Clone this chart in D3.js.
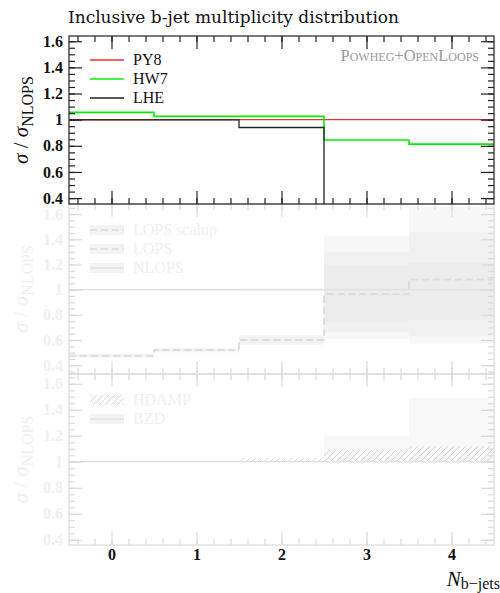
<!doctype html>
<html>
<head>
<meta charset="utf-8">
<style>
  body { margin: 0; background: #fff; }
  svg { display: block; font-family: "Liberation Serif", "DejaVu Serif", serif; }
  .tick text { font-weight: bold; }
</style>
</head>
<body>
<svg id="chart" width="500" height="593"></svg>
<script src="https://cdnjs.cloudflare.com/ajax/libs/d3/7.8.5/d3.min.js"></script>
<script>
// bins of the b-jet multiplicity
var bins = [0, 1, 2, 3, 4];
var xTickLabels = ['0', '1', '2', '3', '4'];
var yTicks = [0.4, 0.6, 0.8, 1, 1.2, 1.4, 1.6];

// panel 1: shower comparison
var py8 = [1, 1, 1, 1, 1];
var hw7 = [1.056, 1.025, 1.025, 0.844, 0.813];
var lhe = [0.998, 0.998, 0.94, 0, 0];

// panel 2: LO vs NLO
var lopsScalup = [0.475, 0.52, 0.6, 0.963, 1.08];
var lops = [0.475, 0.52, 0.6, 0.963, 1.08];
var nlops = [1, 1, 1, 1, 1];
var lopsScalupLo = [0.46, 0.5, 0.56, 0.61, 0.57];
var lopsScalupHi = [0.49, 0.54, 0.64, 1.43, 1.66];
var lopsLo = [0.46, 0.51, 0.57, 0.66, 0.63];
var lopsHi = [0.49, 0.53, 0.63, 1.3, 1.46];
var nlopsLo = [0.995, 0.99, 0.985, 0.74, 0.76];
var nlopsHi = [1.005, 1.01, 1.015, 1.2, 1.22];

// panel 3: hdamp and bzd variations
var hdamp = [1, 1, 1.025, 1.09, 1.12];
var bzd = [1, 1, 1, 1, 1];
var bzdHi = [1, 1, 1, 1.2, 1.49];

var svg = d3.select('#chart');
var x = d3.scaleLinear().domain([-0.5, 4.5]).range([69, 494]);

var panels = [
    { top: 36, bottom: 204, lo: 0.355, hi: 1.64, faded: false },
    { top: 204, bottom: 374, lo: 0.33, hi: 1.68, faded: true },
    { top: 374, bottom: 545, lo: 0.36, hi: 1.675, faded: true }
];
panels.forEach(function(p, i) {
    p.y = d3.scaleLinear().domain([p.lo, p.hi]).range([p.bottom, p.top]);
    p.g = svg.append('g');
    var cp = svg.append('clipPath').attr('id', 'clip' + i);
    cp.append('rect').attr('x', x.range()[0]).attr('y', p.top)
        .attr('width', x.range()[1] - x.range()[0]).attr('height', p.bottom - p.top);
    p.plot = p.g.append('g').attr('clip-path', 'url(#clip' + i + ')');
});

// hatch pattern for HDAMP
var defs = svg.append('defs');
defs.append('pattern').attr('id', 'hatch').attr('patternUnits', 'userSpaceOnUse')
    .attr('width', 6).attr('height', 6)
    .append('path').attr('d', 'M-1,7 L7,-1 M-1,1 L1,-1 M5,7 L7,5')
    .attr('stroke', '#d4d4d4').attr('stroke-width', 1);

function stepPoints(vals) {
    var pts = bins.map(function(b, i) { return [b - 0.5, vals[i]]; });
    pts.push([bins[bins.length - 1] + 0.5, vals[vals.length - 1]]);
    return pts;
}
function stepLine(p) {
    return d3.line().curve(d3.curveStepAfter)
        .x(function(d) { return x(d[0]); })
        .y(function(d) { return p.y(d[1]); });
}
function drawLine(p, vals, color, dash, width) {
    p.plot.append('path')
        .attr('d', stepLine(p)(stepPoints(vals)))
        .attr('fill', 'none')
        .attr('stroke', color)
        .attr('stroke-width', width || 1.3)
        .attr('stroke-dasharray', dash || null);
}
function drawBand(p, lo, hi, fill) {
    p.plot.selectAll(null).data(bins).enter().append('rect')
        .attr('x', function(b) { return x(b - 0.5); })
        .attr('width', function(b) { return x(b + 0.5) - x(b - 0.5); })
        .attr('y', function(b, i) { return p.y(hi[i]); })
        .attr('height', function(b, i) { return p.y(lo[i]) - p.y(hi[i]); })
        .attr('fill', fill);
}

// ---- panel 2 content
var p2 = panels[1];
drawBand(p2, lopsScalupLo, lopsScalupHi, 'rgba(0,0,0,0.03)');
drawBand(p2, lopsLo, lopsHi, 'rgba(0,0,0,0.025)');
drawBand(p2, nlopsLo, nlopsHi, 'rgba(0,0,0,0.02)');
drawLine(p2, nlops, '#e2e2e2', null, 1.5);
drawLine(p2, lopsScalup, '#dcdcdc', '7,4', 1.5);
drawLine(p2, lops, '#dcdcdc', '7,4', 1.5);

// ---- panel 3 content
var p3 = panels[2];
drawBand(p3, bzd, bzdHi, '#f8f8f8');
drawBand(p3, bzd, hdamp, 'url(#hatch)');
drawLine(p3, bzd, '#e2e2e2', null, 1.5);

// ---- panel 1 content
var p1 = panels[0];
drawLine(p1, py8, '#f03030');
drawLine(p1, hw7, '#00f000', null, 1.6);
drawLine(p1, lhe, '#222');

// ---- axes and frames
panels.forEach(function(p, i) {
    var col = p.faded ? '#dadada' : '#222';
    var txt = p.faded ? '#f0f0f0' : '#111';
    var x0 = x.range()[0], x1 = x.range()[1];
    var minorY = d3.range(Math.ceil(p.lo * 20), Math.floor(p.hi * 20) + 1).map(function(v) { return v / 20; });
    var minorX = d3.range(-2, 23).map(function(v) { return v / 5; });

    var left = p.g.append('g').attr('transform', 'translate(' + x0 + ',0)')
        .call(d3.axisLeft(p.y).tickValues(yTicks).tickSize(-13).tickPadding(6)
            .tickFormat(function(d) { return d3.format('')(d); }));
    p.g.append('g').attr('transform', 'translate(' + x0 + ',0)')
        .call(d3.axisLeft(p.y).tickValues(minorY).tickSize(-6).tickFormat(''));
    p.g.append('g').attr('transform', 'translate(' + x1 + ',0)')
        .call(d3.axisRight(p.y).tickValues(yTicks).tickSize(-13).tickFormat(''));
    p.g.append('g').attr('transform', 'translate(' + x1 + ',0)')
        .call(d3.axisRight(p.y).tickValues(minorY).tickSize(-6).tickFormat(''));

    var bottom = p.g.append('g').attr('transform', 'translate(0,' + p.bottom + ')')
        .call(d3.axisBottom(x).tickValues(bins).tickSize(-13).tickPadding(12)
            .tickFormat(function(d, k) { return i === 2 ? xTickLabels[k] : ''; }));
    p.g.append('g').attr('transform', 'translate(0,' + p.bottom + ')')
        .call(d3.axisBottom(x).tickValues(minorX).tickSize(-6).tickFormat(''));
    p.g.append('g').attr('transform', 'translate(0,' + p.top + ')')
        .call(d3.axisTop(x).tickValues(bins).tickSize(-13).tickFormat(''));
    p.g.append('g').attr('transform', 'translate(0,' + p.top + ')')
        .call(d3.axisTop(x).tickValues(minorX).tickSize(-6).tickFormat(''));

    p.g.selectAll('.domain').remove();
    p.g.selectAll('.tick line').attr('stroke', col).attr('stroke-width', 1.2);
    left.selectAll('.tick text').attr('fill', txt)
        .style('font-size', '16px').style('font-family', '"Liberation Serif", serif');
    bottom.selectAll('.tick text').attr('fill', '#111').attr('dy', '0.2em')
        .style('font-size', '16px').style('font-family', '"Liberation Serif", serif');

    p.g.append('rect').attr('x', x0).attr('y', p.top)
        .attr('width', x1 - x0).attr('height', p.bottom - p.top)
        .attr('fill', 'none').attr('stroke', col).attr('stroke-width', 1.2);

    // y label
    var yl = p.g.append('text')
        .attr('transform', 'translate(28,' + ((p.top + p.bottom) / 2) + ') rotate(-90)')
        .attr('text-anchor', 'middle').attr('fill', txt).style('font-size', '21px');
    yl.append('tspan').style('font-style', 'italic').text('σ');
    yl.append('tspan').text(' / ');
    yl.append('tspan').style('font-style', 'italic').text('σ');
    yl.append('tspan').attr('dy', 5).style('font-size', '16px').text('NLOPS');
});

// panel 1 on top so its bottom edge stays dark
p1.g.raise();

// ---- legends
function legend(p, items, y0, dy) {
    items.forEach(function(it, k) {
        var yy = y0 + k * dy;
        if (it.band) {
            p.g.append('rect').attr('x', 90).attr('y', yy - 5).attr('width', 34).attr('height', 10)
                .attr('fill', it.band);
        }
        p.g.append('line').attr('x1', 90).attr('x2', 124).attr('y1', yy).attr('y2', yy)
            .attr('stroke', it.color).attr('stroke-width', it.width || 1.3)
            .attr('stroke-dasharray', it.dash || null);
        p.g.append('text').attr('x', 133).attr('y', yy + 5).attr('fill', it.text || '#111')
            .style('font-size', '16px').text(it.label);
    });
}
legend(p1, [
    { label: 'PY8', color: '#f03030' },
    { label: 'HW7', color: '#00f000' },
    { label: 'LHE', color: '#222' }
], 60, 19);
legend(p2, [
    { label: 'LOPS scalup', color: '#dcdcdc', dash: '7,4', band: '#f3f3f3', text: '#f0f0f0', width: 1.5 },
    { label: 'LOPS', color: '#dcdcdc', dash: '7,4', band: '#f3f3f3', text: '#f0f0f0', width: 1.5 },
    { label: 'NLOPS', color: '#e2e2e2', band: '#f3f3f3', text: '#f0f0f0', width: 1.5 }
], 230, 19);
p3.g.append('rect').attr('x', 90).attr('y', 395).attr('width', 34).attr('height', 10)
    .attr('fill', 'url(#hatch)');
legend(p3, [
    { label: 'HDAMP', color: 'none', text: '#f0f0f0' },
    { label: 'BZD', color: '#e2e2e2', band: '#f3f3f3', text: '#f0f0f0', width: 1.5 }
], 400, 19);

// ---- title and annotations
svg.append('text').attr('x', 68).attr('y', 23).attr('fill', '#111')
    .style('font-size', '17px').style('font-family', '"DejaVu Serif", serif')
    .text('Inclusive b-jet multiplicity distribution');
svg.append('text').attr('x', 479).attr('y', 61).attr('text-anchor', 'end')
    .attr('fill', '#999').style('font-size', '16.5px').style('font-variant', 'small-caps')
    .text('Powheg+OpenLoops');

var xl = svg.append('text').attr('x', 500).attr('y', 586).attr('text-anchor', 'end')
    .attr('fill', '#111').style('font-size', '21px');
xl.append('tspan').style('font-style', 'italic').text('N');
xl.append('tspan').attr('dy', 3).style('font-size', '16px').text('b−jets');
</script>
</body>
</html>
